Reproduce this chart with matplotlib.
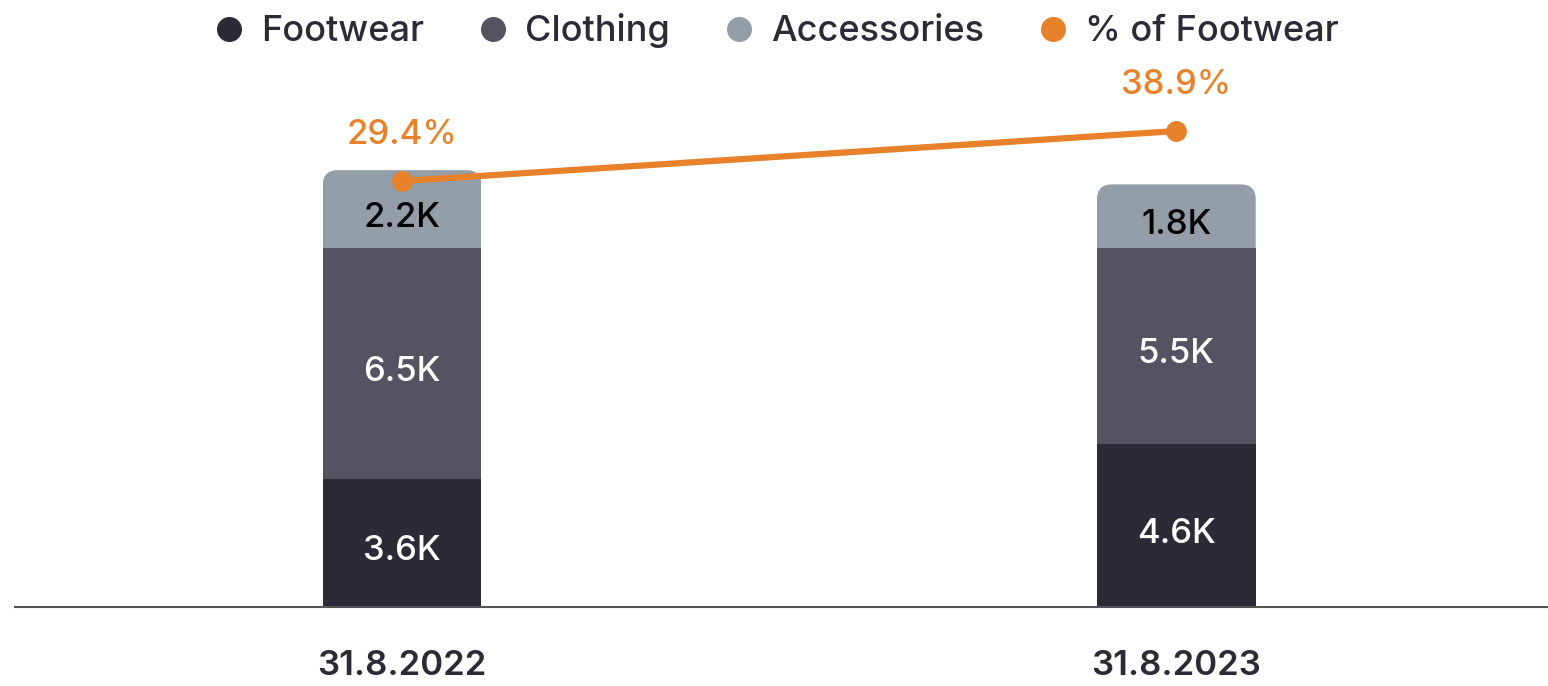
import matplotlib
matplotlib.use("Agg")
import matplotlib.pyplot as plt
from matplotlib.lines import Line2D
from matplotlib.patches import FancyBboxPatch
import numpy as np

dates = ["31.8.2022", "31.8.2023"]
footwear = [3.6, 4.6]
clothing = [6.5, 5.5]
accessories = [2.2, 1.8]
pct_footwear = [29.4, 38.9]

c_foot = "#2c2a35"
c_cloth = "#555362"
c_acc = "#949ea8"
c_pct = "#e8822a"

plt.rcParams["font.family"] = ["Inter", "DejaVu Sans"]

fig = plt.figure(figsize=(15.48, 6.86), dpi=100)
ax = fig.add_axes([0.0097, 0.115, 0.9903, 0.7975])
ax2 = ax.twinx()

x = np.arange(len(dates))
w = 0.205
ax.set_xlim(-0.5, 1.48)
ax.set_ylim(0, 15.4)
ax2.set_ylim(-51.6, 52.4)

b1 = ax.bar(x, footwear, w, color=c_foot)
b2 = ax.bar(x, clothing, w, bottom=footwear, color=c_cloth)
bottom3 = np.array(footwear) + np.array(clothing)
b3 = ax.bar(x, accessories, w, bottom=bottom3, color=c_acc)

# rounded top corners: clip the top segment with a rounded box
fig.canvas.draw()
bb = ax.get_window_extent()
xpx = bb.width / (ax.get_xlim()[1] - ax.get_xlim()[0])
ypx = bb.height / (ax.get_ylim()[1] - ax.get_ylim()[0])
r = 15 / xpx
for rect in b3:
    clip = FancyBboxPatch((rect.get_x(), rect.get_y() - 1), rect.get_width(),
                          rect.get_height() + 1,
                          boxstyle=f"round,pad=0,rounding_size={r}",
                          mutation_aspect=xpx / ypx,
                          transform=ax.transData, facecolor="none", edgecolor="none")
    rect.set_clip_path(clip)

for bars, vals, col in [(b1, footwear, "white"), (b2, clothing, "white"), (b3, accessories, "black")]:
    for rect, v in zip(bars, vals):
        ax.annotate(f"{v}K", (rect.get_x() + rect.get_width() / 2, rect.get_y() + rect.get_height() / 2),
                    xytext=(0, -6), textcoords="offset points",
                    ha="center", va="center", color=col, fontsize=25, fontweight="medium")

ax2.plot(x, pct_footwear, color=c_pct, lw=4.5, marker="o", markersize=14, zorder=5)
for xi, p in zip(x, pct_footwear):
    ax2.annotate(f"{p}%", (xi, p), xytext=(0, 33), textcoords="offset points",
                 ha="center", va="center", color=c_pct, fontsize=25, fontweight="medium")

for a in (ax, ax2):
    for s in ["top", "right", "left"]:
        a.spines[s].set_visible(False)
    a.set_yticks([])
ax2.spines["bottom"].set_visible(False)
ax.spines["bottom"].set_color("#555555")
ax.spines["bottom"].set_linewidth(1.5)
ax.set_xticks(x)
ax.set_xticklabels(dates, fontsize=25, fontweight="semibold", color=c_foot)
ax.tick_params(axis="x", length=0, pad=31)

handles = [Line2D([], [], ls="none", marker="o", markersize=17, color=c)
           for c in [c_foot, c_cloth, c_acc, c_pct]]
fig.legend(handles, ["Footwear", "Clothing", "Accessories", "% of Footwear"],
           loc="center", bbox_to_anchor=(0.497, 0.955), ncol=4, frameon=False,
           handletextpad=0.1, columnspacing=1.1, handlelength=1.6,
           prop={"size": 26, "weight": "medium"}, labelcolor=c_foot)

fig.savefig("out.png", dpi=100)
